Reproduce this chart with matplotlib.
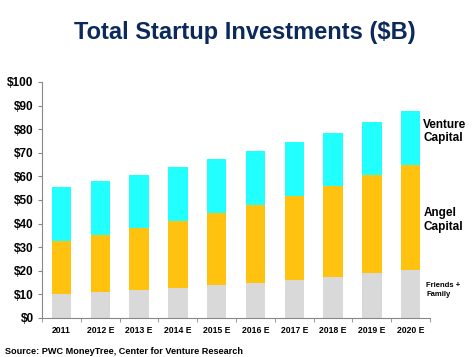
import matplotlib.pyplot as plt
import numpy as np

plt.rcParams['font.family'] = ['Liberation Sans', 'DejaVu Sans']

# data ($B)
years = ["2011", "2012 E", "2013 E", "2014 E", "2015 E",
         "2016 E", "2017 E", "2018 E", "2019 E", "2020 E"]
friends_family = [10.3, 11.0, 12.0, 12.8, 13.9, 14.9, 16.2, 17.5, 18.9, 20.3]
angel_top = [32.7, 35.2, 38.2, 41.1, 44.4, 47.9, 51.8, 56.1, 60.4, 64.9]
total = [55.4, 58.0, 60.8, 63.8, 67.2, 70.7, 74.5, 78.6, 83.0, 87.9]

angel = np.array(angel_top) - np.array(friends_family)
venture = np.array(total) - np.array(angel_top)

fig = plt.figure(figsize=(4.76, 3.57), dpi=100)
ax = fig.add_axes([42 / 476, 39 / 357, 388 / 476, 236 / 357])

x = np.arange(len(years))
w = 0.5
ax.bar(x, friends_family, w, color="#D9D9D9")
ax.bar(x, angel, w, bottom=friends_family, color="#FFC20E")
ax.bar(x, venture, w, bottom=angel_top, color="#22FFFF")

ax.set_xlim(-0.5, len(years) - 0.5)
ax.set_ylim(0, 100)
ax.set_yticks(range(0, 101, 10))
ax.set_yticklabels(["$%d" % v for v in range(0, 101, 10)], fontsize=8.5, fontweight="bold")
ax.set_xticks(x)
ax.set_xticklabels(years, fontsize=6.2, fontweight="bold")
ax.set_xticks(np.arange(-0.5, len(years)), minor=True)
ax.tick_params(axis="x", which="major", length=0, pad=6)
ax.tick_params(axis="x", which="minor", length=3, color="#888888")
ax.tick_params(axis="y", length=3, color="#888888", pad=3)

for s in ["top", "right"]:
    ax.spines[s].set_visible(False)
for s in ["left", "bottom"]:
    ax.spines[s].set_color("#888888")
    ax.spines[s].set_linewidth(0.8)

# series labels next to the last bar
ax.text(9.33, 79.0, "Venture\nCapital", fontsize=8.5, fontweight="bold",
        va="center", ha="left", linespacing=1.2)
ax.text(9.33, 41.5, "Angel\nCapital", fontsize=8.5, fontweight="bold",
        va="center", ha="left", linespacing=1.2)
ax.text(9.4, 11.8, "Friends +\nFamily", fontsize=5.5, fontweight="bold",
        va="center", ha="left", linespacing=1.4)

fig.text(245 / 476, 1 - 32 / 357, "Total Startup Investments ($B)", fontsize=17,
         fontweight="bold", color="#0B2A5B", ha="center", va="center")
fig.text(5 / 476, 1 - 351 / 357, "Source: PWC MoneyTree, Center for Venture Research",
         fontsize=6.6, fontweight="bold", ha="left", va="center")

fig.savefig("out.png", dpi=100)
